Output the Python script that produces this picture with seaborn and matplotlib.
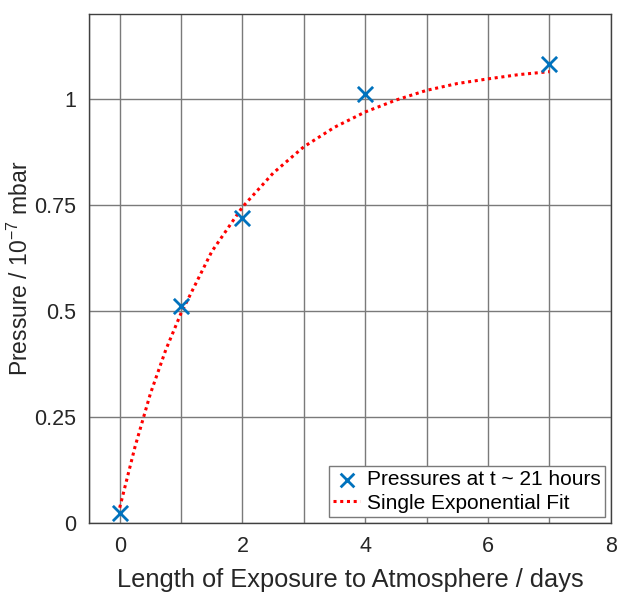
import numpy as np
import pandas as pd
import matplotlib
matplotlib.use("Agg")
import matplotlib.pyplot as plt
import seaborn as sns

# measured pressures
days = [0, 1, 2, 4, 7]
pressure = [0.024, 0.512, 0.719, 1.012, 1.083]

# fitted curve
fit_days = [0, 0.25, 0.5, 0.75, 1, 1.5, 2, 2.5, 3, 3.5, 4, 4.5, 5, 5.5, 6, 6.5, 7]
fit_pressure = [0.036, 0.18, 0.305, 0.408, 0.495, 0.64, 0.745, 0.825, 0.887,
                0.933, 0.969, 0.997, 1.020, 1.036, 1.047, 1.057, 1.064]

df = pd.DataFrame({"days": days, "pressure": pressure})
fit = pd.DataFrame({"days": fit_days, "pressure": fit_pressure})

sns.set_style("whitegrid")
plt.rcParams['font.family'] = ['Liberation Sans', 'DejaVu Sans']
plt.rcParams['mathtext.fontset'] = 'custom'
plt.rcParams['mathtext.rm'] = 'Liberation Sans'
plt.rcParams['mathtext.it'] = 'Liberation Sans'

fig = plt.figure(figsize=(6.19, 5.94), dpi=100)
ax = fig.add_axes([0.1438, 0.1195, 0.843, 0.857])

sns.lineplot(data=fit, x="days", y="pressure", ax=ax, color="#FF0000",
             linestyle=(0, (1, 1.2)), linewidth=2.2, label="Single Exponential Fit",
             zorder=3)
sns.scatterplot(data=df, x="days", y="pressure", ax=ax, marker="x", s=120,
                color="#0072BD", linewidth=2, label="Pressures at t ~ 21 hours",
                zorder=4)

ax.set_xlim(-0.5, 8)
ax.set_ylim(0, 1.2)
ax.set_xticks([0, 2, 4, 6, 8])
ax.set_xticks([-0.5, 1, 3, 5, 7], minor=True)
ax.set_yticks([0, 0.25, 0.5, 0.75, 1])
ax.set_yticklabels(["0", "0.25", "0.5", "0.75", "1"])
ax.grid(True, which="both", color="#7a7a7a", linewidth=1)
ax.tick_params(which="both", length=0, labelsize=15.5, colors="#262626", pad=9)
for s in ax.spines.values():
    s.set_color("#404040")
    s.set_linewidth(1)
    s.set_visible(True)

ax.set_xlabel("Length of Exposure to Atmosphere / days", fontsize=18.3, color="#262626", labelpad=8)
ax.set_ylabel("Pressure / 10$^{-7}$ mbar", fontsize=16.5, color="#262626", labelpad=1)

h, l = ax.get_legend_handles_labels()
leg = ax.legend(h[::-1], l[::-1], loc="lower right", fontsize=15, frameon=True,
                fancybox=False, edgecolor="#7a7a7a", framealpha=1,
                borderaxespad=0.3, handlelength=1.3, handletextpad=0.3,
                labelspacing=0.2, borderpad=0.2, markerscale=0.9)
leg.get_frame().set_linewidth(1)
for t in leg.get_texts():
    t.set_color("black")

fig.savefig("out.png", dpi=100)
